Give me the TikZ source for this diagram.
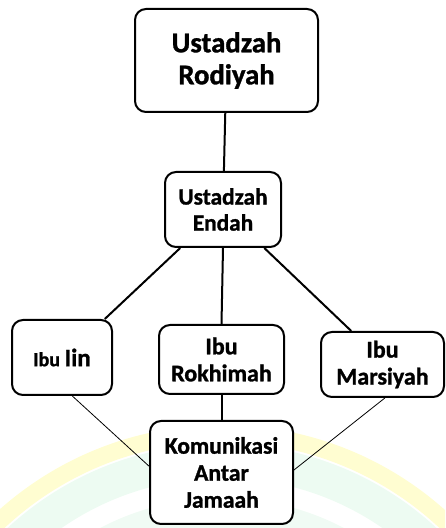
\documentclass[tikz,border=0pt]{standalone}
\usepackage{fontspec}
\setmainfont{Carlito}[BoldFeatures={FakeBold=1.2}]
\begin{document}
\begin{tikzpicture}[
    x=1pt, y=1pt,
    box/.style={draw, fill=white, line width=2pt, rounded corners=11pt, align=center,
        font=\bfseries, inner sep=2pt},
]
    \useasboundingbox (0, 0) rectangle (445, 528);
    % faint watermark in the background
    \begin{scope}
        \clip (0, 0) rectangle (445, 528);
        \fill[yellow!18, even odd rule] (222, -232) circle[radius=335] circle[radius=318];
        \fill[green!50!teal!7, even odd rule] (222, -232) circle[radius=316] circle[radius=282];
        \fill[green!50!teal!6, even odd rule] (222, -232) circle[radius=262] circle[radius=200];
    \end{scope}
    \begin{scope}[
        every path/.style={line width=2pt},
    ]
        \node[box, minimum width=183, minimum height=103, font=\bfseries\fontsize{28.7}{32}\selectfont]
            (rodiyah) at (226.5, 467.5) {Ustadzah\\Rodiyah};

        \node[box, minimum width=116, minimum height=75, font=\bfseries\fontsize{23.3}{26}\selectfont]
            (endah) at (223, 318.5) {Ustadzah\\Endah};

        \node[box, minimum width=100, minimum height=75, font=\bfseries\fontsize{20}{26}\selectfont]
            (iin) at (62, 170.5) {Ibu {\fontsize{25}{26}\selectfont Iin}};

        \node[box, minimum width=125, minimum height=69, font=\bfseries\fontsize{24}{27}\selectfont]
            (rokhimah) at (221.5, 168.5) {Ibu\\Rokhimah};

        \node[box, minimum width=123, minimum height=65, font=\bfseries\fontsize{24}{27}\selectfont]
            (marsiyah) at (382.5, 163.5) {Ibu\\Marsiyah};

        \node[box, minimum width=143, minimum height=103, font=\bfseries\fontsize{23.6}{27}\selectfont]
            (jamaah) at (221.5, 55.5) {Komunikasi\\Antar\\Jamaah};

        \draw (rodiyah) -- (endah);
        \draw (endah.222) -- (iin.42);
        \draw (endah.south) -- (rokhimah.north);
        \draw (endah.317) -- (marsiyah.133);
        \draw (rokhimah.south) -- (jamaah.north);
        \draw[line width=0.8pt] (iin.285) -- (jamaah.175);
        \draw[line width=0.8pt] (marsiyah.274) -- (jamaah.2);
    \end{scope}
\end{tikzpicture}
\end{document}
